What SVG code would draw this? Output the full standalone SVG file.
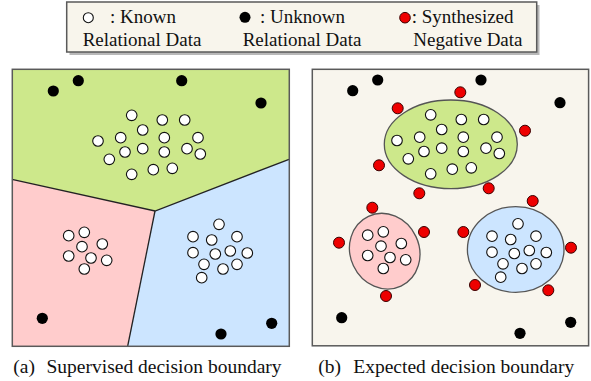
<svg xmlns="http://www.w3.org/2000/svg" width="591" height="381" viewBox="0 0 591 381">
<style>
.txt{font-family:"Liberation Serif","Times New Roman",serif;font-size:19px;fill:#111}
.cap{font-family:"Liberation Serif","Times New Roman",serif;font-size:19.5px;fill:#111}
.k{fill:#fff;stroke:#111;stroke-width:1.1}
.u{fill:#000}
.s{fill:#ee0000;stroke:#3a0000;stroke-width:1}
.frame{stroke:#5a5a5a;stroke-width:1.5}
.bd{fill:none;stroke:#222;stroke-width:1.3}
.reg{stroke:none}
.ell{stroke:#555;stroke-width:1.3}
</style>
<defs>
<g id="kg">
<circle class="k" cx="131.7" cy="115.3" r="5.3"/><circle class="k" cx="162.3" cy="120" r="5.3"/><circle class="k" cx="184.7" cy="120" r="5.3"/><circle class="k" cx="142.7" cy="130" r="5.3"/><circle class="k" cx="98" cy="141" r="5.3"/><circle class="k" cx="120.7" cy="137.7" r="5.3"/><circle class="k" cx="164.3" cy="137.7" r="5.3"/><circle class="k" cx="198" cy="137.7" r="5.3"/><circle class="k" cx="125" cy="152" r="5.3"/><circle class="k" cx="142.7" cy="148.7" r="5.3"/><circle class="k" cx="164.3" cy="152" r="5.3"/><circle class="k" cx="187" cy="148.7" r="5.3"/><circle class="k" cx="200.3" cy="154" r="5.3"/><circle class="k" cx="109.3" cy="159.3" r="5.3"/><circle class="k" cx="131.7" cy="174.3" r="5.3"/><circle class="k" cx="153.3" cy="169.7" r="5.3"/><circle class="k" cx="172.3" cy="168.3" r="5.3"/>
</g>
<g id="kp">
<circle class="k" cx="68.7" cy="235.7" r="5.3"/><circle class="k" cx="84.3" cy="232.3" r="5.3"/><circle class="k" cx="102.3" cy="244" r="5.3"/><circle class="k" cx="82" cy="246.7" r="5.3"/><circle class="k" cx="68.7" cy="256" r="5.3"/><circle class="k" cx="91" cy="258" r="5.3"/><circle class="k" cx="106.7" cy="260.3" r="5.3"/><circle class="k" cx="84.3" cy="269" r="5.3"/>
</g>
<g id="kb">
<circle class="k" cx="219" cy="224.3" r="5.3"/><circle class="k" cx="193" cy="236.7" r="5.3"/><circle class="k" cx="211.7" cy="240" r="5.3"/><circle class="k" cx="237" cy="236.7" r="5.3"/><circle class="k" cx="193" cy="252.7" r="5.3"/><circle class="k" cx="215.3" cy="254" r="5.3"/><circle class="k" cx="230.3" cy="251" r="5.3"/><circle class="k" cx="247.3" cy="253" r="5.3"/><circle class="k" cx="204" cy="264.3" r="5.3"/><circle class="k" cx="223" cy="269" r="5.3"/><circle class="k" cx="237" cy="264.3" r="5.3"/><circle class="k" cx="201.7" cy="277.7" r="5.3"/>
</g>
</defs>

<g id="legend">
<rect x="69.5" y="5" width="470" height="50" fill="#b8b8b8"/>
<rect x="66.7" y="2" width="470" height="50" fill="#f8f5ec" class="frame"/>
<circle class="k" cx="88.3" cy="17.7" r="5"/>
<text class="txt" x="110" y="22.7">: Known</text>
<text class="txt" x="82.7" y="45.5">Relational Data</text>
<circle class="u" cx="245" cy="17.3" r="5.5"/>
<text class="txt" x="260" y="22.7">: Unknown</text>
<text class="txt" x="242.7" y="45.5">Relational Data</text>
<circle class="s" cx="405" cy="17.7" r="5.3"/>
<text class="txt" x="411.7" y="22.7">: Synthesized</text>
<text class="txt" x="413.3" y="45.5">Negative Data</text>
</g>

<g id="panel-a">
<polygon class="reg" fill="#cde88b" points="12,69 289,69 289,159.3 155,211 12,179.3"/>
<polygon class="reg" fill="#ffcccc" points="12,179.3 155,211 127.7,346 12,346"/>
<polygon class="reg" fill="#cce5ff" points="155,211 289,159.3 289,346 127.7,346"/>
<polyline class="bd" points="12,179.3 155,211 289,159.3"/>
<line class="bd" x1="155" y1="211" x2="127.7" y2="346"/>
<rect x="12.3" y="69.3" width="277" height="277" fill="none" class="frame"/>
<use href="#kg"/><use href="#kp"/><use href="#kb"/>
<circle class="u" cx="53.3" cy="91" r="5.6"/><circle class="u" cx="78.3" cy="80.7" r="5.6"/><circle class="u" cx="181.7" cy="80.7" r="5.6"/><circle class="u" cx="261" cy="103" r="5.6"/><circle class="u" cx="42.3" cy="318.3" r="5.6"/><circle class="u" cx="221" cy="334" r="5.6"/><circle class="u" cx="271.7" cy="323.3" r="5.6"/>
</g>

<g id="panel-b">
<rect x="312.3" y="69.3" width="276.3" height="276.5" fill="#f8f5ed" class="frame"/>
<ellipse class="ell" fill="#cde88b" cx="450.8" cy="144.3" rx="66.5" ry="44.3"/>
<ellipse class="ell" fill="#ffcccc" cx="384.7" cy="251.2" rx="34.5" ry="38.5" transform="rotate(-25 384.7 251.2)"/>
<ellipse class="ell" fill="#cce5ff" cx="515.7" cy="249.5" rx="48.3" ry="42.8"/>
<g transform="translate(299 -0.5)"><use href="#kg"/><use href="#kp"/><use href="#kb"/></g>
<circle class="u" cx="352.7" cy="90.7" r="5.6"/><circle class="u" cx="377.7" cy="80" r="5.6"/><circle class="u" cx="481" cy="80" r="5.6"/><circle class="u" cx="560" cy="102.7" r="5.6"/><circle class="u" cx="341.7" cy="317.7" r="5.6"/><circle class="u" cx="520" cy="333.3" r="5.6"/><circle class="u" cx="570.7" cy="322.3" r="5.6"/>
<circle class="s" cx="460.3" cy="92.3" r="5.5"/><circle class="s" cx="397.7" cy="108.3" r="5.5"/><circle class="s" cx="525" cy="130.7" r="5.5"/><circle class="s" cx="379" cy="165.3" r="5.5"/><circle class="s" cx="419.3" cy="193.3" r="5.5"/><circle class="s" cx="488.7" cy="188.3" r="5.5"/><circle class="s" cx="372.3" cy="207.7" r="5.5"/><circle class="s" cx="424" cy="232" r="5.5"/><circle class="s" cx="339" cy="242.7" r="5.5"/><circle class="s" cx="386" cy="296" r="5.5"/><circle class="s" cx="532.7" cy="201" r="5.5"/><circle class="s" cx="463.3" cy="232" r="5.5"/><circle class="s" cx="571" cy="247.7" r="5.5"/><circle class="s" cx="475" cy="285" r="5.5"/><circle class="s" cx="548.3" cy="290.3" r="5.5"/>
</g>

<g id="captions">
<text class="cap" x="13.3" y="373.3">(a)</text>
<text class="cap" x="46.5" y="373.3">Supervised decision boundary</text>
<text class="cap" x="318.3" y="373.3">(b)</text>
<text class="cap" x="353.3" y="373.3">Expected decision boundary</text>
</g>
</svg>
